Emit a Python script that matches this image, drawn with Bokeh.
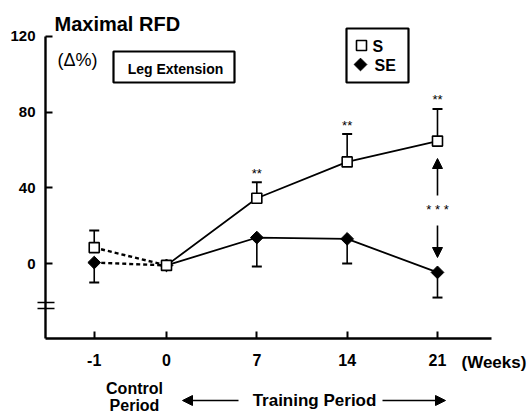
import math
from bokeh.plotting import figure
from bokeh.models import (Range1d, FixedTicker, Label, Arrow, NormalHead, TeeHead,
                          Whisker, ColumnDataSource, BoxAnnotation, LinearAxis)
from bokeh.core.properties import value
from bokeh.embed import file_html
from bokeh.resources import INLINE

# ---------------- data ----------------
week_labels = ["-1", "0", "7", "14", "21"]
week_slot = [-0.8, 0, 1, 2, 3]          # category slot of each measurement
s_mean = [8.4, -1.0, 34.5, 53.7, 64.7]   # S group, Δ% maximal RFD
s_err = [9.0, 0.0, 8.5, 14.7, 17.0]
se_mean = [0.5, -1.0, 13.7, 13.0, -4.7]  # SE group
se_err = [10.5, 0.0, 15.3, 13.0, 13.3]
y_ticks = [0, 40, 80, 120]
sig_s = ["", "", "**", "**", "**"]      # S vs. week 0
series_names = ["S", "SE"]

FONT = "Liberation Sans"
W, H = 530, 416
PX_X = 90.33     # pixels per week slot
PX_Y = 1.892     # pixels per Δ% unit
X0, X1 = -166 / PX_X, (W - 166) / PX_X
Y0, Y1 = -(H - 263) / PX_Y, 263 / PX_Y


def xd(px):
    return X0 + px * (X1 - X0) / W


def yd(py):
    return Y1 - py * (Y1 - Y0) / H


p = figure(width=W, height=H, output_backend="svg", toolbar_location=None,
           x_range=Range1d(X0, X1), y_range=Range1d(Y0, Y1),
           x_axis_location=None, y_axis_location=None,
           min_border=0, min_border_left=0, min_border_right=0,
           min_border_top=0, min_border_bottom=0)
p.outline_line_color = None
p.xgrid.visible = False
p.ygrid.visible = False
p.background_fill_color = "white"
p.border_fill_color = "white"

yaxis = LinearAxis(fixed_location=xd(45), bounds=(yd(338), 120),
                   ticker=FixedTicker(ticks=y_ticks), major_label_standoff=10,
                   major_label_text_font_size="15px")
xaxis = LinearAxis(fixed_location=yd(338), bounds=(xd(45), xd(491)),
                   ticker=FixedTicker(ticks=week_slot), major_label_standoff=15,
                   major_label_text_font_size="16px",
                   major_label_overrides={s: l for s, l in zip(week_slot, week_labels)})
for ax in (xaxis, yaxis):
    ax.axis_line_width = 2.4
    ax.axis_line_color = "black"
    ax.major_tick_line_width = 2
    ax.major_tick_line_color = "black"
    ax.major_tick_in = 7
    ax.major_tick_out = 0
    ax.minor_tick_line_color = None
    ax.major_label_text_font = FONT
    ax.major_label_text_font_style = "bold"
    ax.major_label_text_color = "black"
p.add_layout(yaxis, "left")
p.add_layout(xaxis, "below")

src_s = ColumnDataSource(dict(x=week_slot, m=s_mean, lo=s_mean,
                              hi=[m + e for m, e in zip(s_mean, s_err)]))
src_se = ColumnDataSource(dict(x=week_slot, m=se_mean, hi=se_mean,
                               lo=[m - e for m, e in zip(se_mean, se_err)]))

# error bars (S upward, SE downward)
p.add_layout(Whisker(base="x", lower="lo", upper="hi", source=src_s,
                     line_width=1.6, line_color="black", lower_head=None,
                     upper_head=TeeHead(size=10, line_width=2, line_color="black")))
p.add_layout(Whisker(base="x", lower="lo", upper="hi", source=src_se,
                     line_width=1.6, line_color="black", upper_head=None,
                     lower_head=TeeHead(size=10, line_width=2, line_color="black")))

# control-period dotted links, training-period solid lines
p.line(week_slot[:2], s_mean[:2], line_color="black", line_width=2.4, line_dash="4 3")
p.line(week_slot[:2], se_mean[:2], line_color="black", line_width=2.4, line_dash="4 3")
p.line(week_slot[1:], s_mean[1:], line_color="black", line_width=1.8)
p.line(week_slot[1:], se_mean[1:], line_color="black", line_width=1.8)

SE_STYLE = dict(marker="square", angle=math.pi / 4, size=9, fill_color="black",
                line_color="black", line_width=1)
S_STYLE = dict(marker="square", size=10, fill_color="white", line_color="black",
               line_width=1.6)
p.scatter("x", "m", source=src_se, **SE_STYLE)
p.scatter("x", "m", source=src_s, **S_STYLE)

TXT = dict(text_font=FONT, text_color="black", text_baseline="middle")

# legend box
p.add_layout(BoxAnnotation(left=xd(346), right=xd(408), top=yd(28), bottom=yd(82),
                           fill_alpha=0, line_color="black", level="underlay",
                           line_width=2.2, line_alpha=1))
p.scatter([xd(361)], [yd(45)], **S_STYLE)
p.scatter([xd(360)], [yd(64)], **SE_STYLE)
p.add_layout(Label(x=xd(372), y=yd(46), text=series_names[0], text_font_style="bold",
                   text_font_size="16px", **TXT))
p.add_layout(Label(x=xd(374), y=yd(65), text=series_names[1], text_font_style="bold",
                   text_font_size="16px", **TXT))

# significance marks
for xs, hi, mark in zip(week_slot, src_s.data["hi"], sig_s):
    if mark:
        p.add_layout(Label(x=xs, y=hi, text=mark, text_align="center",
                           y_offset=9, text_font_size="13px", **TXT))

# S vs SE at week 21
xe = week_slot[-1]
p.add_layout(Arrow(x_start=xe, y_start=yd(195), x_end=xe, y_end=yd(158), line_width=1.6,
                   line_color="black",
                   end=NormalHead(size=10, fill_color="black", line_color="black")))
p.add_layout(Arrow(x_start=xe, y_start=yd(225), x_end=xe, y_end=yd(257), line_width=1.6,
                   line_color="black",
                   end=NormalHead(size=10, fill_color="black", line_color="black")))
p.add_layout(Label(x=xe, y=yd(209), text="* * *", text_align="center",
                   text_font_size="13px", **TXT))

# axis break marks
for py in (302, 308):
    p.add_layout(Arrow(x_start=xd(37), y_start=yd(py), x_end=xd(54), y_end=yd(py),
                       start=None, end=None, line_width=1.6, line_color="black"))

# titles & boxes
p.add_layout(Label(x=xd(54), y=yd(23), text="Maximal RFD", text_font_style="bold",
                   text_font_size="20px", **TXT))
p.add_layout(Label(x=xd(57), y=yd(59), text="(Δ%)", text_font_size="18px", **TXT))
p.add_layout(BoxAnnotation(left=xd(113), right=xd(234), top=yd(51), bottom=yd(82),
                           fill_alpha=0, line_color="black", line_width=2.2, line_alpha=1))
p.add_layout(Label(x=xd(175), y=yd(68), text="Leg Extension", text_align="center",
                   text_font_style="bold", text_font_size="14px", **TXT))

# below-axis texts
p.add_layout(Label(x=xd(461), y=yd(362), text="(Weeks)", text_font_style="bold",
                   text_font_size="17px", **TXT))
p.add_layout(Label(x=xd(134), y=yd(388), text="Control", text_align="center",
                   text_font_style="bold", text_font_size="16px", **TXT))
p.add_layout(Label(x=xd(134), y=yd(405), text="Period", text_align="center",
                   text_font_style="bold", text_font_size="16px", **TXT))
p.add_layout(Label(x=xd(314), y=yd(400), text="Training Period", text_align="center",
                   text_font_style="bold", text_font_size="17px", **TXT))
p.add_layout(Arrow(x_start=xd(238), y_start=yd(400), x_end=xd(182), y_end=yd(400),
                   line_width=1.6, line_color="black",
                   end=NormalHead(size=10, fill_color="black", line_color="black")))
p.add_layout(Arrow(x_start=xd(382), y_start=yd(400), x_end=xd(445), y_end=yd(400),
                   line_width=1.6, line_color="black",
                   end=NormalHead(size=10, fill_color="black", line_color="black")))

open("out.html", "w").write(file_html(p, INLINE))
